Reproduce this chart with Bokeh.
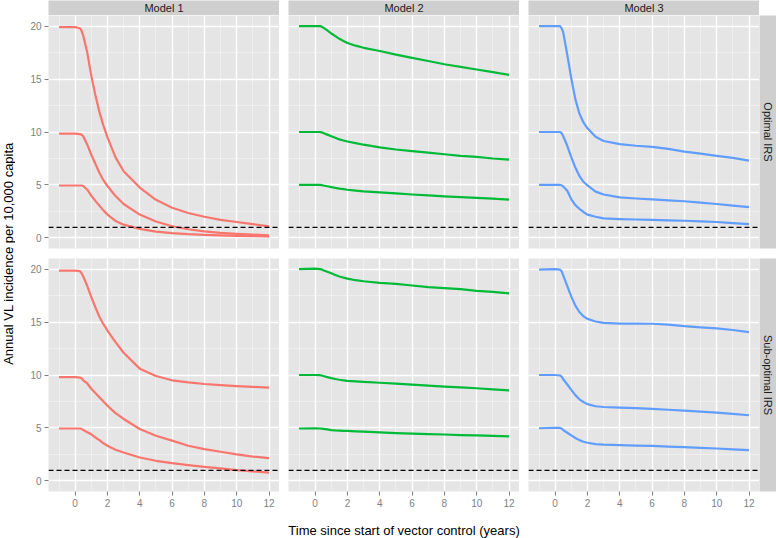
import math
from bokeh.plotting import figure
from bokeh.models import Range1d, SingleIntervalTicker, Span, GridBox, Grid
from bokeh.core.properties import value
from bokeh.embed import file_html
from bokeh.resources import INLINE

# ---------------- data ----------------
TIME = [-1, 0, 0.3, 0.4, 0.5, 0.75, 1, 1.25, 1.5, 1.75, 2, 2.5, 3, 4, 5, 6, 7, 8, 9, 10, 11, 12]

# Model 1
M1_OPT_20 = [19.9, 19.9, 19.8, 19.55, 19.1, 17.5, 15.3, 13.5, 11.9, 10.6, 9.5, 7.6, 6.3, 4.75, 3.6, 2.85, 2.35, 2.0, 1.7, 1.5, 1.3, 1.1]
M1_OPT_10 = [9.85, 9.85, 9.8, 9.75, 9.6, 8.8, 7.85, 7.0, 6.15, 5.45, 4.9, 3.95, 3.2, 2.2, 1.55, 1.1, 0.82, 0.62, 0.48, 0.38, 0.31, 0.25]
M1_OPT_5 = [4.95, 4.95, 4.95, 4.95, 4.9, 4.55, 4.0, 3.5, 3.05, 2.6, 2.2, 1.6, 1.25, 0.85, 0.6, 0.45, 0.35, 0.29, 0.24, 0.2, 0.17, 0.15]
M1_SUB_20 = [19.85, 19.85, 19.8, 19.6, 19.3, 18.4, 17.35, 16.4, 15.5, 14.8, 14.2, 13.1, 12.1, 10.6, 9.9, 9.5, 9.3, 9.15, 9.05, 8.95, 8.88, 8.8]
M1_SUB_10 = [9.8, 9.8, 9.75, 9.7, 9.5, 9.2, 8.7, 8.3, 7.9, 7.5, 7.1, 6.4, 5.85, 4.9, 4.27, 3.8, 3.32, 3.0, 2.75, 2.5, 2.3, 2.15]
M1_SUB_5 = [4.95, 4.95, 4.95, 4.92, 4.8, 4.6, 4.4, 4.1, 3.85, 3.55, 3.32, 2.95, 2.68, 2.21, 1.9, 1.68, 1.49, 1.33, 1.18, 1.02, 0.9, 0.78]

# Model 2
M2_OPT_20 = [20, 20, 20, 19.95, 19.85, 19.6, 19.3, 19.05, 18.8, 18.6, 18.4, 18.15, 17.95, 17.65, 17.3, 17.0, 16.7, 16.4, 16.15, 15.9, 15.65, 15.4]
M2_OPT_10 = [10, 10, 10, 9.97, 9.9, 9.75, 9.6, 9.45, 9.3, 9.2, 9.1, 8.95, 8.8, 8.55, 8.35, 8.2, 8.05, 7.9, 7.75, 7.65, 7.5, 7.4]
M2_OPT_5 = [5, 5, 5, 4.98, 4.95, 4.88, 4.8, 4.72, 4.65, 4.6, 4.55, 4.47, 4.4, 4.3, 4.2, 4.1, 4.02, 3.93, 3.85, 3.78, 3.7, 3.62]
M2_SUB_20 = [20, 20.05, 20, 19.97, 19.9, 19.75, 19.6, 19.45, 19.3, 19.2, 19.1, 18.95, 18.85, 18.7, 18.6, 18.45, 18.3, 18.2, 18.1, 17.95, 17.85, 17.7]
M2_SUB_10 = [10, 10, 9.98, 9.95, 9.9, 9.8, 9.7, 9.62, 9.55, 9.5, 9.45, 9.4, 9.35, 9.27, 9.18, 9.1, 9.0, 8.9, 8.83, 8.75, 8.65, 8.55]
M2_SUB_5 = [4.95, 4.97, 4.95, 4.94, 4.92, 4.86, 4.8, 4.77, 4.75, 4.73, 4.72, 4.68, 4.65, 4.58, 4.52, 4.47, 4.42, 4.38, 4.33, 4.29, 4.25, 4.2]

# Model 3
M3_OPT_20 = [20, 20, 20, 19.8, 19.4, 17.3, 15.05, 13.1, 11.75, 10.9, 10.35, 9.55, 9.15, 8.85, 8.7, 8.6, 8.4, 8.15, 7.95, 7.75, 7.55, 7.3]
M3_OPT_10 = [10, 10, 10, 9.9, 9.6, 8.7, 7.6, 6.65, 5.85, 5.3, 4.95, 4.37, 4.1, 3.82, 3.72, 3.64, 3.55, 3.46, 3.33, 3.2, 3.05, 2.9]
M3_OPT_5 = [5, 5, 5, 4.97, 4.85, 4.45, 3.65, 3.1, 2.75, 2.45, 2.2, 2.0, 1.85, 1.78, 1.74, 1.7, 1.66, 1.62, 1.56, 1.5, 1.4, 1.3]
M3_SUB_20 = [19.95, 20.0, 19.95, 19.8, 19.4, 18.4, 17.4, 16.55, 15.95, 15.55, 15.3, 15.05, 14.92, 14.86, 14.85, 14.84, 14.75, 14.62, 14.5, 14.4, 14.25, 14.05]
M3_SUB_10 = [10, 10, 9.95, 9.85, 9.6, 9.1, 8.6, 8.1, 7.7, 7.45, 7.25, 7.05, 6.98, 6.92, 6.87, 6.8, 6.72, 6.63, 6.55, 6.45, 6.33, 6.2]
M3_SUB_5 = [4.97, 5.02, 5.0, 4.95, 4.8, 4.55, 4.3, 4.05, 3.85, 3.7, 3.6, 3.48, 3.42, 3.38, 3.34, 3.3, 3.24, 3.19, 3.12, 3.06, 2.98, 2.9]

MODELS = ["Model 1", "Model 2", "Model 3"]
SCENARIOS = ["Optimal IRS", "Sub-optimal IRS"]
SERIES = {
    (0, 0): [M1_OPT_20, M1_OPT_10, M1_OPT_5],
    (1, 0): [M1_SUB_20, M1_SUB_10, M1_SUB_5],
    (0, 1): [M2_OPT_20, M2_OPT_10, M2_OPT_5],
    (1, 1): [M2_SUB_20, M2_SUB_10, M2_SUB_5],
    (0, 2): [M3_OPT_20, M3_OPT_10, M3_OPT_5],
    (1, 2): [M3_SUB_20, M3_SUB_10, M3_SUB_5],
}
COLORS = ["#F8766D", "#00BA38", "#619CFF"]
THRESHOLD = 1
X_LIMITS = (-1.65, 12.65)
Y_LIMITS = (-1, 21)
X_TICK_STEP = 2
Y_TICK_STEP = 5
X_TITLE = "Time since start of vector control (years)"
Y_TITLE = "Annual VL incidence per 10,000 capita"

# ---------------- styling / layout ----------------
FONT = "Liberation Sans"
PANEL_BG = "#E5E5E5"
STRIP_BG = "#CFCFCF"
W, H = 231, 233
YLAB_W, TICK_W, GAP, RSTRIP_W = 15, 33, 9, 17
STRIP_H, ROW_GAP, BA, XLAB_H = 15, 10, 20, 27


def deco(width, height, left=0, bottom=0, top=0, bg=STRIP_BG):
    f = figure(width=width, height=height, x_range=Range1d(0, 1), y_range=Range1d(0, 1),
               output_backend="svg", toolbar_location=None,
               x_axis_location=None, y_axis_location=None,
               min_border=0, min_border_left=left, min_border_bottom=bottom,
               min_border_top=top, min_border_right=0,
               background_fill_color=bg, border_fill_color="white",
               outline_line_color=None)
    f.title.visible = False
    f.center = [r for r in f.center if not isinstance(r, Grid)]
    return f


def add_text(f, txt, size, color, angle=0.0):
    f.text(x=[0.5], y=[0.5], text=[txt], angle=angle,
           text_align="center", text_baseline="middle",
           text_font=value(FONT), text_font_size=size, text_color=color)


def panel(row, col):
    left = TICK_W if col == 0 else GAP
    bottom = ROW_GAP if row == 0 else BA
    p = figure(width=left + W, height=H + bottom,
               x_range=Range1d(*X_LIMITS), y_range=Range1d(*Y_LIMITS),
               output_backend="svg", toolbar_location=None,
               x_axis_location="below" if row == 1 else None,
               y_axis_location="left" if col == 0 else None,
               min_border=0, min_border_left=left, min_border_bottom=bottom,
               min_border_top=0, min_border_right=0,
               background_fill_color=PANEL_BG, border_fill_color="white",
               outline_line_color=None)
    p.title.visible = False
    xt = SingleIntervalTicker(interval=X_TICK_STEP, num_minor_ticks=2)
    yt = SingleIntervalTicker(interval=Y_TICK_STEP, num_minor_ticks=2)
    p.center = [r for r in p.center if not isinstance(r, Grid)]
    for dim, tk in ((0, xt), (1, yt)):
        g = Grid(dimension=dim, ticker=tk,
                 grid_line_color="white", grid_line_width=1.4,
                 minor_grid_line_color="#F3F3F3", minor_grid_line_width=0.7)
        g.level = "underlay"
        p.add_layout(g, "center")
    for ax, tk in ((p.xaxis, xt), (p.yaxis, yt)):
        ax.ticker = tk
        ax.axis_line_color = None
        ax.major_tick_line_color = "#7F7F7F"
        ax.major_tick_out = 4
        ax.major_tick_in = 0
        ax.minor_tick_line_color = None
        ax.major_label_text_font = FONT
        ax.major_label_text_font_size = "10px"
        ax.major_label_text_color = "#7F7F7F"
        ax.major_label_standoff = 3
    for vals in SERIES[(row, col)]:
        p.line(TIME, vals, line_color=COLORS[col], line_width=2.2, line_join="round")
    p.add_layout(Span(location=THRESHOLD, dimension="width", line_color="black",
                      line_dash="5 3", line_width=1.2))
    return p


children = []
# y-axis title spanning both panel rows
ylab = deco(YLAB_W, (H + ROW_GAP) + (H + BA), bottom=BA, bg="white")
add_text(ylab, Y_TITLE, "13px", "black", angle=math.pi / 2)
children.append((ylab, 1, 0, 2, 1))

for c, name in enumerate(MODELS):
    left = TICK_W if c == 0 else GAP
    s = deco(left + W, STRIP_H, left=left)
    add_text(s, name, "11px", "#1A1A1A")
    children.append((s, 0, c + 1))
    for r in range(2):
        children.append((panel(r, c), r + 1, c + 1))

for r, name in enumerate(SCENARIOS):
    bottom = ROW_GAP if r == 0 else BA
    rs = deco(RSTRIP_W, H + bottom, bottom=bottom)
    add_text(rs, name, "11px", "#1A1A1A", angle=-math.pi / 2)
    children.append((rs, r + 1, 4))

# x-axis title spanning the three panel columns
xlab_w = TICK_W + W + 2 * (GAP + W)
xlab = deco(xlab_w, XLAB_H, left=TICK_W, top=11, bg="white")
add_text(xlab, X_TITLE, "13px", "black")
children.append((xlab, 3, 1, 1, 3))

layout = GridBox(children=children, spacing=0)

open("out.html", "w").write(file_html(layout, INLINE))
